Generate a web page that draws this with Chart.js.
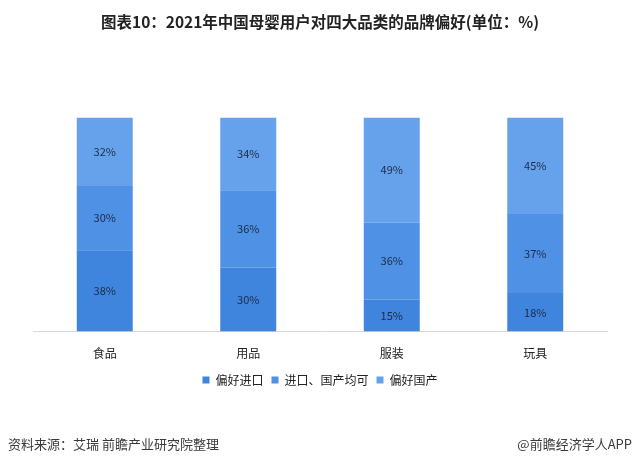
<!DOCTYPE html>
<html><head><meta charset="utf-8">
<script src="https://cdn.jsdelivr.net/npm/chart.js@4/dist/chart.umd.min.js"></script>
<style>
html,body{margin:0;padding:0;background:#fff;}
#wrap{position:relative;width:640px;height:466px;}
canvas{position:absolute;left:0;top:0;}
.foot{position:absolute;top:434px;font-family:"Noto Sans CJK SC",sans-serif;font-size:13px;color:#3a3a3a;}
</style></head>
<body><div id="wrap"><canvas id="c" width="640" height="466"></canvas>
<div class="foot" style="left:8px;">资料来源：艾瑞 前瞻产业研究院整理</div>
<div class="foot" style="right:8px;">@前瞻经济学人APP</div></div>
<script>
const categories = ["食品","用品","服装","玩具"];
const seriesNames = ["偏好进口","进口、国产均可","偏好国产"];
const preferImport = [38,30,15,18];
const either = [30,36,36,37];
const preferDomestic = [32,34,49,45];
const colors = ["#3f85de","#4e91e5","#66a2ec"];

const labelPlugin = {
  id:'segLabels',
  afterDatasetsDraw(chart){
    const ctx = chart.ctx;
    ctx.save();
    ctx.font = '11px "Noto Sans CJK SC", sans-serif';
    ctx.fillStyle = '#1c2a44';
    ctx.textAlign='center'; ctx.textBaseline='middle';
    chart.data.datasets.forEach((ds,i)=>{
      chart.getDatasetMeta(i).data.forEach((bar,j)=>{
        const y = (bar.y + bar.base)/2;
        ctx.fillText(ds.data[j]+'%', bar.x, y);
      });
    });
    ctx.restore();
  }
};

new Chart(document.getElementById('c'),{
  type:'bar',
  data:{labels:categories,datasets:[
    {label:seriesNames[0],data:preferImport,backgroundColor:colors[0]},
    {label:seriesNames[1],data:either,backgroundColor:colors[1]},
    {label:seriesNames[2],data:preferDomestic,backgroundColor:colors[2]}
  ]},
  options:{
    responsive:false,animation:false,
    layout:{padding:{left:33,right:33,top:0,bottom:70}},
    datasets:{bar:{categoryPercentage:1,barPercentage:0.39}},
    scales:{
      x:{stacked:true,grid:{display:false},border:{display:true,color:'#d8d8d8'},
         afterFit(s){ s.height -= 2; },
         ticks:{padding:7,color:'#222',font:{size:12,family:'"Noto Sans CJK SC", sans-serif'}}},
      y:{stacked:true,display:false,min:0,max:100}
    },
    plugins:{
      title:{display:true,text:'图表10：2021年中国母婴用户对四大品类的品牌偏好(单位：%)',
        color:'#222',font:{size:15.5,weight:'bold',family:'"Noto Sans CJK SC", sans-serif'},
        padding:{top:13,bottom:86}},
      legend:{position:'bottom',labels:{boxWidth:7,boxHeight:7,padding:8,color:'#222',
        font:{size:12,family:'"Noto Sans CJK SC", sans-serif'}}},
      tooltip:{enabled:false}
    }
  },
  plugins:[labelPlugin]
});
</script></body></html>
